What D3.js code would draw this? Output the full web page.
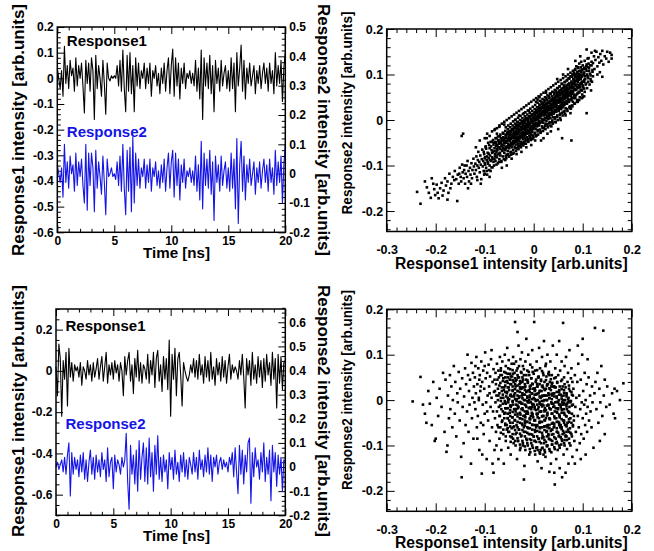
<!DOCTYPE html>
<html><head><meta charset="utf-8">
<script src="https://cdn.jsdelivr.net/npm/d3@7"></script>
<style>
body{margin:0;background:#fff}
text{font-family:"Liberation Sans",Arial,Helvetica,sans-serif;font-weight:bold}
</style>
</head><body>
<svg id="c" width="654" height="551"></svg>
<script>
// ---------- DATA ----------
const timeStep = 0.125; // ns between samples, t = 0 .. 20 ns
const topResponse1 = [
0.04,0.0,-0.04,0.03,-0.07,0.125,-0.02,0.05,
-0.04,0.07,0.01,0.04,-0.05,0.08,-0.03,0.05,
0.0,0.06,-0.03,-0.135,0.07,-0.02,0.06,-0.05,
0.08,0.03,-0.16,0.09,-0.04,0.05,0.0,-0.07,
0.07,-0.02,-0.14,0.06,0.0,-0.01,0.01,0.0,
0.01,0.0,0.05,-0.03,0.07,-0.05,0.11,-0.04,
-0.13,0.09,-0.05,0.1,-0.06,0.05,-0.13,0.08,
-0.03,0.06,-0.04,0.03,0.0,0.06,-0.04,0.04,
-0.02,0.06,-0.07,0.03,0.0,0.05,-0.03,0.02,
-0.06,0.04,-0.02,0.06,-0.05,0.03,0.08,-0.06,
0.05,0.114,-0.07,0.08,-0.03,0.06,-0.08,0.04,
-0.02,0.06,-0.04,0.02,0.0,0.03,-0.02,0.02,
-0.03,0.07,-0.05,0.04,-0.08,0.11,-0.16,0.08,
-0.03,0.06,-0.04,0.09,-0.06,0.05,-0.13,0.07,
-0.02,0.04,-0.05,0.07,-0.03,0.02,0.05,-0.04,
0.03,-0.05,0.08,-0.04,0.06,-0.13,0.1,-0.03,
0.04,0.13,-0.05,0.07,-0.08,0.04,-0.02,0.06,
-0.03,0.01,0.05,-0.06,0.03,-0.02,0.05,-0.04,
0.02,0.06,-0.02,0.04,-0.05,0.06,-0.02,0.03,
-0.06,0.1,-0.03,0.05,-0.02,0.07,-0.09,0.04,
0.1];
const topResponse2 = [
0.03,0.0,-0.03,0.02,-0.08,0.1,-0.03,0.04,
-0.05,0.06,0.0,0.03,-0.06,0.07,-0.04,0.04,
-0.01,0.05,-0.04,-0.1,0.1,-0.125,0.07,-0.04,
0.07,0.02,-0.13,0.08,-0.05,0.04,-0.01,-0.07,
0.06,-0.03,-0.14,0.05,-0.01,0.0,0.02,-0.01,
0.0,-0.02,0.04,-0.04,0.06,-0.06,0.1,-0.05,
-0.14,0.08,-0.06,0.09,-0.13,0.125,-0.1,0.07,
-0.04,0.05,-0.05,0.02,-0.01,0.05,-0.05,0.03,
-0.03,0.05,-0.06,0.02,-0.01,0.04,-0.04,0.01,
-0.05,0.03,-0.03,0.05,-0.06,0.02,0.07,-0.05,
0.04,0.08,-0.08,0.07,-0.04,0.05,-0.09,0.03,
-0.03,0.05,-0.05,0.01,-0.01,0.02,-0.03,0.01,
-0.04,0.06,-0.06,0.03,-0.09,0.11,-0.12,0.07,
-0.04,0.05,-0.05,0.08,-0.07,0.04,-0.16,0.06,
-0.03,0.03,-0.06,0.06,-0.04,0.01,0.04,-0.05,
0.02,-0.06,0.07,-0.05,0.05,-0.12,0.12,-0.17,
0.03,0.11,-0.06,0.06,-0.09,0.03,-0.03,0.05,
-0.04,0.0,0.04,-0.07,0.02,-0.03,0.04,-0.05,
0.01,0.05,-0.03,0.03,-0.06,0.05,-0.03,0.02,
-0.07,0.08,-0.04,0.04,-0.03,0.06,-0.1,0.03,
0.1];
const bottomResponse1 = [
0.02,-0.12,0.13,0.06,-0.22,0.05,-0.04,0.09,
-0.17,0.11,-0.03,0.04,-0.05,0.03,0.0,0.02,
-0.03,0.04,-0.07,0.02,0.0,-0.04,0.05,-0.02,
0.03,-0.05,0.04,-0.03,0.01,0.06,-0.04,0.02,
0.07,-0.05,0.02,0.09,-0.06,0.03,-0.02,0.04,
-0.04,0.05,-0.01,0.03,-0.05,0.04,0.0,-0.12,
0.07,-0.02,0.05,0.09,-0.05,0.03,-0.11,0.06,
-0.03,0.1,-0.05,0.04,-0.06,0.03,0.01,-0.04,
0.08,-0.06,0.05,-0.02,0.09,-0.08,0.06,0.1,
-0.05,0.03,-0.1,0.07,-0.04,0.06,-0.09,0.15,
-0.22,0.08,-0.04,0.11,-0.12,0.06,0.09,-0.02,
-0.17,0.04,0.0,-0.03,-0.05,-0.02,0.03,-0.01,
0.06,-0.03,0.05,-0.04,0.08,-0.02,0.03,-0.06,
0.07,-0.03,0.05,-0.05,0.09,-0.04,0.02,-0.07,
0.06,-0.02,0.04,-0.05,0.07,-0.03,0.05,-0.06,
0.02,0.08,-0.04,0.03,-0.01,0.02,0.0,-0.04,
0.05,-0.02,0.08,-0.03,-0.18,0.06,-0.02,0.05,
-0.07,0.09,-0.04,0.03,-0.06,0.07,-0.03,0.05,
-0.08,0.06,-0.05,0.08,-0.02,0.04,-0.07,0.09,
-0.04,0.06,-0.18,0.08,-0.06,0.07,-0.09,0.04,
0.05];
const bottomResponse2 = [
0.0,0.02,-0.01,0.01,0.03,-0.02,0.04,-0.03,
0.05,0.1,-0.12,0.06,-0.03,0.04,-0.01,0.03,
-0.04,0.05,-0.02,0.06,-0.05,0.03,-0.06,0.02,
0.07,-0.03,0.04,-0.05,0.05,-0.02,0.03,-0.04,
0.06,-0.01,0.03,-0.06,0.08,-0.04,0.02,0.04,
-0.09,0.05,-0.02,0.03,0.01,-0.03,0.04,0.0,
0.03,0.14,-0.06,-0.175,0.09,-0.03,0.05,-0.07,
0.07,-0.1,0.11,-0.05,0.04,0.1,-0.06,0.08,
-0.07,0.12,-0.04,0.06,-0.1,0.09,-0.03,0.13,
-0.05,0.04,-0.06,0.05,-0.02,0.03,-0.09,0.06,
-0.01,0.04,-0.05,0.07,-0.03,0.02,-0.06,0.05,
-0.02,0.06,-0.04,0.03,-0.05,0.04,0.01,-0.03,
0.06,-0.02,0.04,-0.05,0.07,-0.01,0.03,-0.04,
0.05,-0.02,0.08,-0.03,0.05,-0.06,0.04,0.0,
0.05,-0.03,0.02,0.04,-0.01,0.03,0.0,0.02,
-0.02,0.04,0.01,0.06,-0.04,0.08,-0.02,-0.11,
0.09,-0.03,0.07,-0.07,0.05,-0.02,0.1,0.12,
-0.15,0.06,-0.04,0.08,0.0,0.03,-0.05,0.06,
-0.02,0.1,-0.06,0.04,-0.03,0.07,-0.14,0.09,
-0.02,0.06,-0.08,0.05,-0.03,0.04,-0.1,0.03,
0.02];
// scatter points, [Response1, Response2] in units of 0.001 arb.units
const scatterTopSparse = [
[-238,-158],[-231,-184],[-222,-135],[-218,-148],[-214,-160],[-210,-171],[-205,-140],[-201,-165],[-203,-152],[-208,-128],
[-198,-142],[-196,-160],[-194,-172],[-191,-150],[-188,-138],[-186,-166],[-184,-155],[-181,-128],[-179,-144],[-176,-135],[-174,-160],[-172,-118],[-170,-150],[-168,-140],[-165,-125],[-162,-132],[-161,-112],[-176,-175],
[-158,-130],[-156,-178],[-155,-120],[-153,-140],[-151,-105],[-149,-125],[-148,-135],[-146,-98],[-145,-115],[-143,-128],[-142,-110],[-140,-140],[-139,-118],[-137,-100],[-136,-125],[-135,-90],[-133,-112],[-132,-135],[-130,-105],[-129,-120],[-127,-95],[-126,-128],[-125,-110],[-123,-85],[-122,-102],[-121,-118],[-147,-35],[-144,-30],[-128,-140],[-134,-150],[-152,-118],[-141,-100],
[-119,-96],[-118,-110],[-117,-80],[-116,-125],[-115,-100],[-114,-88],[-113,-70],[-112,-105],[-111,-92],[-110,-115],[-109,-78],[-108,-98],[-107,-130],[-106,-86],[-105,-65],[-104,-102],[-103,-90],[-102,-112],[-101,-75],[-100,-95],[-99,-82],[-98,-60],[-97,-105],[-96,-88],[-95,-120],[-94,-72],[-93,-96],[-92,-84],[-91,-55],[-90,-100],[-89,-78],[-88,-112],[-87,-90],[-86,-66],[-85,-82],[-84,-104],[-83,-70],[-82,-92],[-81,-50],[-80,-85],[-118,-60],[-110,-45],[-96,-40],[-108,-140],[-90,-125],[-85,-48],[-100,-118],[-115,-132],
[-80,-62],[-79,-75],[-78,-48],[-78,-90],[-77,-58],[-76,-70],[-76,-40],[-75,-82],[-74,-55],[-74,-66],[-73,-95],[-72,-44],[-72,-60],[-71,-74],[-70,-52],[-70,-86],[-69,-36],[-68,-64],[-68,-78],[-67,-50],[-66,-58],[-66,-92],[-65,-42],[-64,-68],[-64,-54],[-63,-80],[-62,-30],[-62,-62],[-61,-48],[-60,-72],[-60,-56],[-59,-40],[-58,-66],[-58,-88],[-57,-50],[-56,-60],[-56,-34],[-55,-76],[-54,-46],[-54,-58],[-53,-68],[-52,-26],[-52,-52],[-51,-40],[-50,-62],[-50,-80],[-49,-46],[-48,-56],[-48,-32],[-47,-70],[-46,-42],[-46,-50],[-45,-60],[-44,-22],[-44,-38],[-43,-54],[-42,-46],[-42,-74],[-41,-30],[-40,-50],[-40,-40],[-79,-20],[-70,-15],[-65,-105],[-55,-100],[-45,-85],[-60,-10],[-75,-30],
[-40,-26],[-39,-60],[-39,-38],[-38,-46],[-38,-18],[-37,-32],[-37,-54],[-36,-40],[-36,-10],[-35,-28],[-35,-48],[-34,-36],[-34,-62],[-33,-20],[-33,-42],[-32,-30],[-32,-52],[-31,-14],[-31,-38],[-30,-24],[-30,-46],[-29,-32],[-29,-58],[-28,-8],[-28,-40],[-27,-22],[-27,-34],[-26,-48],[-26,-16],[-25,-28],[-25,-38],[-24,-2],[-24,-54],[-23,-20],[-23,-30],[-22,-42],[-22,-12],[-21,-26],[-21,-36],[-20,-18],[-20,-48],[-19,-6],[-19,-30],[-18,-22],[-18,-40],[-17,-14],[-17,-34],[-16,-26],[-16,4],[-15,-44],[-15,-18],[-14,-30],[-14,-10],[-13,-22],[-13,-38],[-12,-2],[-12,-16],[-11,-28],[-11,-46],[-10,-12],[-10,-24],[-9,6],[-9,-34],[-8,-18],[-8,-8],[-7,-28],[-7,-40],[-6,-14],[-6,2],[-5,-22],[-5,-32],[-4,-6],[-4,-18],[-3,10],[-3,-26],[-2,-12],[-2,-2],[-1,-36],[-1,-20],[0,-8],[0,4],[-38,0],[-30,10],[-20,15],[-10,20],[-35,-75],[-25,-70],[-15,-60],[-5,-55],[-33,-5],[-27,-50],[-19,-52],[-11,-6],[-3,-42],
[1,-16],[1,-2],[2,8],[2,-28],[3,-10],[3,14],[4,0],[4,-20],[5,22],[5,-6],[6,6],[6,-34],[7,-14],[7,16],[8,2],[8,-8],[9,28],[9,-22],[10,10],[10,-2],[11,-12],[11,20],[12,4],[12,34],[13,-6],[13,14],[14,-26],[14,24],[15,8],[15,-4],[16,18],[16,40],[17,-14],[17,2],[18,28],[18,12],[19,-6],[19,36],[20,20],[20,0],[21,10],[21,-18],[22,44],[22,26],[23,4],[23,16],[24,-8],[24,32],[25,22],[25,12],[26,-2],[26,48],[27,28],[27,8],[28,18],[28,-12],[29,38],[29,24],[30,2],[30,14],[31,30],[31,52],[32,10],[32,-6],[33,22],[33,40],[34,16],[34,4],[35,34],[35,58],[36,24],[36,-14],[37,12],[37,44],[38,28],[38,20],[39,6],[39,36],[40,48],[40,26],[5,40],[12,50],[20,-40],[28,-30],[35,-25],[15,-45],[8,45],[25,60],[38,-5],[3,-45],
[41,30],[41,14],[42,42],[42,60],[43,22],[43,36],[44,6],[44,50],[45,28],[45,64],[46,40],[46,18],[47,56],[47,32],[48,44],[48,10],[49,26],[49,70],[50,38],[50,52],[51,20],[51,62],[52,46],[52,30],[53,74],[53,40],[54,14],[54,56],[55,34],[55,66],[56,48],[56,24],[57,80],[57,58],[58,38],[58,44],[59,70],[59,28],[60,52],[60,62],[61,40],[61,18],[62,76],[62,56],[63,46],[63,34],[64,66],[64,84],[65,50],[65,26],[66,60],[66,72],[67,42],[67,56],[68,88],[68,36],[69,64],[69,50],[70,78],[70,46],[71,58],[71,92],[72,40],[72,68],[73,54],[73,80],[74,62],[74,30],[75,72],[75,96],[76,52],[76,64],[77,84],[77,44],[78,70],[78,58],[79,100],[79,76],[80,62],[80,40],[45,-5],[55,0],[65,10],[75,15],[48,90],[60,100],[70,112],[76,25],[50,-20],[58,-40],[77,-45],
[81,90],[81,72],[82,56],[82,104],[83,80],[83,66],[84,94],[84,110],[85,76],[85,48],[86,100],[86,86],[87,66],[87,118],[88,92],[88,78],[89,58],[89,106],[90,84],[90,96],[91,114],[91,70],[92,88],[92,100],[93,62],[93,124],[94,94],[94,80],[95,108],[95,72],[96,116],[96,90],[97,100],[97,128],[98,84],[98,66],[99,110],[99,96],[100,120],[100,76],[102,104],[103,88],[104,130],[105,96],[106,112],[107,80],[108,122],[109,100],[110,116],[111,92],[112,136],[113,108],[115,120],[116,98],[118,128],[120,110],[85,130],[95,140],[90,40],[100,50],[110,135],[117,65],[108,15],[117,86],
[121,125],[123,140],[124,112],[126,132],[128,150],[130,118],[132,138],[134,126],[136,145],[138,130],[140,152],[142,122],[145,140],[148,135],[150,150],[153,128],[156,148],[159,143],[159,135],[108,155],[125,152],[118,148],[135,105],[140,95],[130,100]
];
const scatterTopDense = [
[-101,-120],[-99,-98],[-100,-84],[-102,-70],[-98,-58],[-100,-40],
[-96,-112],[-94,-92],[-95,-80],[-97,-63],[-93,-50],[-95,-30],
[-91,-110],[-89,-88],[-92,-74],[-90,-62],[-88,-48],[-90,-35],
[-86,-104],[-84,-86],[-85,-72],[-87,-58],[-83,-44],[-85,-25],
[-81,-100],[-79,-80],[-80,-68],[-82,-54],[-78,-40],[-80,-22],
[-76,-98],[-74,-76],[-75,-64],[-77,-50],[-73,-36],[-75,-18],[-76,-55],
[-71,-92],[-69,-72],[-70,-60],[-72,-46],[-68,-32],[-70,-12],[-71,-50],
[-66,-90],[-64,-66],[-65,-56],[-67,-40],[-63,-28],[-65,-8],[-66,-46],
[-61,-86],[-59,-64],[-60,-50],[-62,-38],[-58,-24],[-60,-4],[-61,-44],
[-56,-84],[-54,-60],[-55,-46],[-57,-34],[-53,-20],[-55,0],[-56,-40],[-54,-28],
[-51,-80],[-49,-56],[-50,-42],[-52,-30],[-48,-16],[-50,4],[-51,-36],[-49,-24],
[-46,-76],[-44,-52],[-45,-38],[-47,-26],[-43,-12],[-45,8],[-46,-32],[-44,-20],
[-41,-72],[-39,-48],[-40,-34],[-42,-22],[-38,-8],[-40,12],[-41,-28],[-39,-16],
[-36,-68],[-34,-44],[-35,-30],[-37,-18],[-33,-4],[-35,16],[-36,-24],[-34,-12],
[-31,-64],[-29,-40],[-30,-26],[-32,-14],[-28,0],[-30,20],[-31,-20],[-29,-8],
[-26,-60],[-24,-36],[-25,-22],[-27,-10],[-23,4],[-25,24],[-26,-16],[-24,-4],
[-21,-56],[-19,-32],[-20,-18],[-22,-6],[-18,8],[-20,28],[-21,-12],[-19,0],
[-16,-52],[-14,-28],[-15,-14],[-17,-2],[-13,12],[-15,32],[-16,-8],[-14,4],
[-11,-48],[-9,-24],[-10,-10],[-12,2],[-8,16],[-10,36],[-11,-4],[-9,8],
[-6,-44],[-4,-20],[-5,-6],[-7,6],[-3,20],[-5,40],[-6,0],[-4,12],
[-1,-40],[1,-16],[0,-2],[-2,10],[2,24],[0,44],[-1,4],[1,16],
[4,-36],[6,-12],[5,2],[3,14],[7,28],[5,48],[4,8],[6,20],
[9,-32],[11,-8],[10,6],[8,18],[12,32],[10,52],[9,12],[11,24],
[14,-28],[16,-4],[15,10],[13,22],[17,36],[15,56],[14,16],[16,28],
[19,-24],[21,0],[20,14],[18,26],[22,40],[20,60],[19,20],[21,32],
[24,-20],[26,4],[25,18],[23,30],[27,44],[25,64],[24,24],[26,36],
[29,-16],[31,8],[30,22],[28,34],[32,48],[30,68],[29,28],[31,40],
[34,-12],[36,12],[35,26],[33,38],[37,52],[35,72],[34,32],[36,44],
[39,-8],[41,16],[40,30],[38,42],[42,56],[40,76],[39,36],[41,48],
[44,-4],[46,20],[45,34],[43,46],[47,60],[45,80],[44,40],[46,52],
[49,0],[51,24],[50,38],[48,50],[52,64],[50,84],[49,44],[51,56],
[54,4],[56,28],[55,42],[53,54],[57,68],[55,88],[54,48],[56,60],
[59,10],[61,32],[60,46],[58,58],[62,72],[60,92],[59,52],
[64,14],[66,36],[65,50],[63,62],[67,76],[65,96],[64,56],
[69,20],[71,40],[70,54],[68,66],[72,80],[70,100],[69,60],
[74,26],[76,44],[75,58],[73,70],[77,84],[75,104],
[79,30],[81,48],[80,62],[78,74],[82,88],[80,108],
[84,36],[86,54],[85,68],[83,80],[87,94],[85,112],
[89,44],[91,60],[90,72],[88,86],[92,100],[90,116],
[94,50],[96,66],[95,78],[93,92],[97,106],
[99,56],[101,72],[100,84],[98,98],[102,112],
[104,62],[106,78],[105,90],[103,104],[107,118],
[109,70],[111,84],[110,96],[108,108],[112,124],
[114,78],[116,90],[115,102],[113,114],
[119,84],[121,96],[120,106],[118,120],
[-57,-79],[-57,-62],[-57,-47],[-57,-32],[-57,-16],
[-52,-75],[-52,-58],[-52,-43],[-52,-28],[-52,-12],
[-47,-71],[-47,-54],[-47,-39],[-47,-24],[-47,-8],
[-42,-66],[-42,-49],[-42,-34],[-42,-19],[-42,-3],
[-37,-62],[-37,-45],[-37,-30],[-37,-15],[-37,1],
[-32,-58],[-32,-41],[-32,-26],[-32,-11],[-32,5],
[-27,-54],[-27,-37],[-27,-22],[-27,-7],[-27,9],
[-22,-50],[-22,-33],[-22,-18],[-22,-3],[-22,13],
[-17,-46],[-17,-29],[-17,-14],[-17,1],[-17,17],
[-12,-42],[-12,-25],[-12,-10],[-12,5],[-12,21],
[-7,-38],[-7,-21],[-7,-6],[-7,9],[-7,25],
[-2,-34],[-2,-17],[-2,-2],[-2,13],[-2,29],
[3,-30],[3,-13],[3,2],[3,17],[3,33],
[8,-25],[8,-8],[8,7],[8,22],[8,38],
[13,-21],[13,-4],[13,11],[13,26],[13,42],
[18,-17],[18,0],[18,15],[18,30],[18,46],
[23,-13],[23,4],[23,19],[23,34],[23,50],
[28,-9],[28,8],[28,23],[28,38],[28,54],
[33,-5],[33,12],[33,27],[33,42],[33,58],
[38,-1],[38,16],[38,31],[38,46],[38,62],
[43,3],[43,20],[43,35],[43,50],[43,66],
[48,7],[48,24],[48,39],[48,54],[48,70],
[53,11],[53,28],[53,43],[53,58],[53,74],
[58,16],[58,33],[58,48],[58,63],[58,79],
[63,20],[63,37],[63,52],[63,67],[63,83],
[68,24],[68,41],[68,56],[68,71],[68,87],
[73,28],[73,45],[73,60],[73,75],[73,91],
[78,32],[78,49],[78,64],[78,79],[78,95],
[83,36],[83,53],[83,68],[83,83],[83,99],
[88,40],[88,57],[88,72],[88,87],[88,103],
[93,44],[93,61],[93,76],[93,91],[93,107],
[98,48],[98,65],[98,80],[98,95],[98,111],
[103,52],[103,69],[103,84],[103,99],[103,115]
];
const scatterBottomSparse = [
[-247,-3],[-231,51],[-226,-10],[-222,-30],[-219,-50],[-215,20],[-212,-8],[-208,-55],[-205,40],[-202,-90],[-200,-85],[-198,5],[-195,-35],[-192,25],[-188,-15],[-185,60],[-182,-70],[-180,45],
[-178,-114],[-176,-100],[-175,10],[-173,-40],[-171,55],[-170,-20],[-168,30],[-166,-60],[-165,0],[-163,75],[-161,-30],[-160,40],[-158,-80],[-156,15],[-155,-5],[-153,62],[-151,-45],[-150,25],[-148,-125],[-147,-170],[-146,48],[-145,-15],[-143,-95],[-142,8],[-140,70],[-139,-55],[-138,35],[-136,-25],[-135,100],[-134,55],[-133,-70],[-132,20],[-131,-10],[-130,45],[-128,-140],[-127,82],[-126,-40],[-125,5],[-124,60],[-123,-85],[-122,30],[-121,-5],
[-120,50],[-119,-20],[-118,15],[-117,95],[-116,-60],[-115,35],[-114,-35],[-113,70],[-112,0],[-111,-110],[-110,55],[-109,20],[-108,-50],[-107,85],[-106,-162],[-105,40],[-104,-10],[-103,65],[-102,-75],[-101,25],[-100,-30],[-99,105],[-98,48],[-97,-5],[-96,-130],[-95,60],[-94,10],[-93,-45],[-92,78],[-91,30],[-90,-90],[-89,52],[-88,-15],[-87,90],[-86,5],[-85,-60],[-84,40],[-83,-25],[-82,-160],[-82,68],[-81,18],[-80,-110],[-80,45],[-119,75],[-115,-85],[-111,45],[-105,-120],[-100,75],[-95,-25],[-90,15],[-86,110],[-84,-140],[-112,5],[-108,30],[-103,-55],
[-79,20],[-79,-40],[-78,60],[-78,-5],[-77,-70],[-77,35],[-76,10],[-76,-100],[-75,80],[-75,-25],[-74,45],[-74,-55],[-73,0],[-73,25],[-72,-130],[-72,65],[-71,-15],[-71,50],[-70,-85],[-70,15],[-69,95],[-69,-35],[-68,38],[-68,-60],[-67,5],[-67,70],[-66,-20],[-66,-110],[-65,55],[-65,28],[-64,-45],[-64,85],[-63,-8],[-63,12],[-62,-75],[-62,48],[-61,22],[-61,-140],[-60,62],[-60,-30],[-59,-2],[-59,100],[-58,-55],[-58,32],[-57,75],[-57,-90],[-56,8],[-56,-18],[-55,42],[-55,-65],[-54,115],[-54,18],[-53,-40],[-53,58],[-52,-5],[-52,-105],[-51,28],[-51,88],[-50,-70],[-50,2],[-49,45],[-49,-28],[-48,68],[-48,-50],[-47,12],[-47,-120],[-46,35],[-46,-12],[-45,80],[-45,-82],[-44,52],[-44,-38],[-43,-2],[-43,22],[-42,-60],[-42,95],[-41,40],[-41,-95],[-40,-20],[-40,8],
[-39,-45],[-39,60],[-38,172],[-38,15],[-37,-75],[-37,30],[-36,-10],[-36,85],[-35,-55],[-35,45],[-34,-130],[-34,2],[-33,70],[-33,-30],[-32,20],[-32,-90],[-31,120],[-31,-15],[-30,50],[-30,-65],[-29,8],[-29,35],[-28,-40],[-28,-110],[-27,90],[-27,-5],[-26,62],[-26,-80],[-25,25],[-25,-20],[-24,105],[-24,-52],[-23,40],[-23,-8],[-22,-100],[-22,75],[-21,12],[-21,-35],[-20,55],[-20,-60],[-19,-145],[-19,28],[-18,0],[-18,-25],[-17,85],[-17,-70],[-16,45],[-16,-12],[-15,135],[-15,18],[-14,-48],[-14,-88],[-13,65],[-13,5],[-12,-30],[-12,38],[-11,-62],[-11,100],[-10,-18],[-10,22],[-9,-120],[-9,55],[-8,-42],[-8,10],[-7,78],[-7,-75],[-6,-5],[-6,32],[-5,-95],[-5,48],[-4,-28],[-4,15],[-3,110],[-3,-55],[-2,-10],[-2,62],[-1,-38],[-1,25],[0,-80],[0,5],[-36,-20],[-30,-5],[-24,10],[-18,-50],[-12,-5],[-6,-35],[-27,25],[-15,-30],[-9,0],[-3,-15],[-33,150],[-20,-175],
[1,172],[1,-45],[2,20],[2,-15],[3,65],[3,-70],[4,-2],[4,40],[5,-105],[5,12],[6,-30],[6,85],[7,-55],[7,30],[8,0],[8,-135],[9,50],[9,-20],[10,-85],[10,15],[11,115],[11,-40],[12,35],[12,-8],[13,-62],[13,70],[14,5],[14,-110],[15,-25],[15,45],[16,-150],[16,20],[17,-48],[17,95],[18,-10],[18,-78],[19,60],[19,28],[20,-35],[20,-2],[21,130],[21,-95],[22,40],[22,-58],[23,10],[23,-18],[24,75],[24,-125],[25,-40],[25,25],[26,-70],[26,52],[27,0],[27,-100],[28,100],[28,-28],[29,35],[29,-55],[30,-12],[30,15],[31,-85],[31,62],[32,-158],[32,5],[33,40],[33,-42],[34,-20],[34,85],[35,-68],[35,22],[36,-5],[36,-115],[37,55],[37,-30],[38,-90],[38,10],[39,120],[39,-50],[40,30],[40,-15],[5,-60],[10,50],[15,-10],[20,-120],[25,80],[30,-75],[35,-140],[2,-90],[12,-50],[22,-25],[32,55],[38,-65],[8,-30],[18,10],[28,-60],[36,30],
[41,-60],[41,15],[42,-160],[42,48],[43,-186],[43,-25],[44,-5],[44,70],[45,-95],[45,28],[46,-40],[46,-130],[47,8],[47,100],[48,-70],[48,38],[49,-18],[49,-110],[50,55],[50,-48],[51,0],[51,-80],[52,22],[52,130],[53,-35],[53,-150],[54,65],[54,-60],[55,12],[55,-10],[56,-98],[56,42],[57,-28],[57,85],[58,-170],[58,-5],[59,30],[59,-75],[60,170],[60,-45],[61,10],[61,-120],[62,50],[62,-20],[63,-88],[63,75],[64,0],[64,-55],[65,-160],[65,28],[66,-35],[66,95],[67,-70],[67,15],[68,-8],[68,-108],[69,40],[69,-50],[70,-25],[70,60],[71,-140],[71,5],[72,-85],[72,32],[73,-15],[73,110],[74,-62],[74,20],[75,-40],[75,-100],[76,48],[76,-2],[77,-75],[77,70],[78,-30],[78,12],[79,-125],[79,40],[80,-55],[80,-10],[50,-20],[60,-10],[70,-5],[55,-55],[65,-80],
[81,25],[82,-45],[83,-90],[84,55],[85,-15],[86,-70],[87,5],[88,-110],[89,40],[90,-35],[91,80],[92,-60],[93,10],[94,-95],[95,-20],[96,45],[97,-75],[98,-5],[99,100],[100,-40],[101,20],[102,-85],[103,-10],[104,60],[105,-55],[106,0],[107,-30],[108,35],[109,-70],[110,-15],[112,50],[113,-45],[115,10],[116,-25],[118,-60],[119,30],[120,-5],[122,-105],[124,15],[90,120],[100,135],[110,90],[84,-140],[96,-130],[106,-120],
[125,159],[142,153],[126,40],[128,-20],[130,60],[132,-50],[134,25],[136,-5],[138,75],[140,-35],[143,10],[145,45],[148,-15],[150,30],[155,-10],[160,15],[163,-30],[166,-40],[170,20],[176,0],[183,37],[165,25],[145,-75],[135,-90]
];
const scatterBottomDense = [
[-72,-60],[-70,-35],[-68,-12],[-72,10],[-70,32],[-68,55],
[-67,-72],[-65,-48],[-63,-25],[-67,-2],[-65,20],[-63,42],[-67,65],
[-62,-65],[-60,-40],[-58,-18],[-62,5],[-60,28],[-58,50],
[-57,-80],[-55,-55],[-53,-30],[-57,-8],[-55,15],[-53,38],[-57,60],
[-52,-70],[-50,-45],[-48,-22],[-52,0],[-50,22],[-48,45],[-52,70],
[-47,-92],[-45,-62],[-43,-38],[-47,-15],[-45,8],[-43,30],[-47,52],
[-42,-85],[-40,-58],[-38,-32],[-42,-10],[-40,12],[-38,35],[-42,58],[-40,80],
[-37,-100],[-35,-72],[-33,-48],[-37,-25],[-35,-2],[-33,20],[-37,42],[-35,65],
[-32,-90],[-30,-65],[-28,-40],[-32,-18],[-30,5],[-28,28],[-32,50],[-30,75],
[-27,-105],[-25,-78],[-23,-55],[-27,-32],[-25,-8],[-23,15],[-27,38],[-25,60],
[-22,-95],[-20,-70],[-18,-45],[-22,-22],[-20,0],[-18,22],[-22,45],[-20,68],
[-17,-110],[-15,-85],[-13,-60],[-17,-38],[-15,-15],[-13,8],[-17,30],[-15,55],
[-12,-100],[-10,-75],[-8,-50],[-12,-28],[-10,-5],[-8,18],[-12,40],[-10,62],
[-7,-115],[-5,-88],[-3,-65],[-7,-42],[-5,-20],[-3,2],[-7,25],[-5,48],[-3,72],
[-2,-105],[0,-80],[2,-55],[-2,-32],[0,-10],[2,12],[-2,35],[0,58],
[3,-120],[5,-92],[7,-68],[3,-45],[5,-22],[7,0],[3,22],[5,45],[7,66],
[8,-110],[10,-85],[12,-60],[8,-38],[10,-15],[12,8],[8,30],[10,52],
[13,-118],[15,-95],[17,-72],[13,-48],[15,-25],[17,-2],[13,20],[15,42],[17,64],
[18,-105],[20,-82],[22,-58],[18,-35],[20,-12],[22,10],[18,32],[20,55],
[23,-115],[25,-92],[27,-68],[23,-45],[25,-22],[27,0],[23,22],[25,44],
[28,-100],[30,-78],[32,-55],[28,-32],[30,-10],[32,12],[28,35],[30,58],
[33,-112],[35,-88],[37,-65],[33,-42],[35,-20],[37,2],[33,25],[35,46],
[38,-98],[40,-75],[42,-52],[38,-30],[40,-8],[42,15],[38,38],
[43,-108],[45,-85],[47,-62],[43,-40],[45,-18],[47,5],[43,28],[45,50],
[48,-95],[50,-72],[52,-50],[48,-28],[50,-5],[52,18],[48,40],
[53,-105],[55,-82],[57,-60],[53,-38],[55,-15],[57,8],[53,30],
[58,-90],[60,-68],[62,-45],[58,-22],[60,0],[62,22],[58,45],
[63,-100],[65,-78],[67,-55],[63,-32],[65,-10],[67,12],[63,35],
[68,-88],[70,-65],[72,-42],[68,-20],[70,2],[72,25],
[73,-95],[75,-72],[77,-50],[73,-28],[75,-5],[77,18],
[78,-80],[80,-58],[82,-35],[78,-12],[80,10],
[-58,-52],[-58,-28],[-58,-5],[-58,18],[-58,40],
[-53,-62],[-53,-40],[-53,-18],[-53,5],[-53,28],[-53,50],
[-48,-80],[-48,-58],[-48,-35],[-48,-12],[-48,10],[-48,35],[-48,58],
[-43,-75],[-43,-50],[-43,-26],[-43,-4],[-43,20],[-43,44],[-43,66],
[-38,-90],[-38,-66],[-38,-44],[-38,-20],[-38,2],[-38,24],[-38,48],
[-33,-84],[-33,-60],[-33,-36],[-33,-12],[-33,10],[-33,32],[-33,55],
[-28,-98],[-28,-74],[-28,-50],[-28,-28],[-28,-4],[-28,18],[-28,42],
[-23,-90],[-23,-66],[-23,-42],[-23,-18],[-23,4],[-23,28],[-23,50],
[-18,-102],[-18,-80],[-18,-56],[-18,-34],[-18,-10],[-18,12],[-18,35],
[-13,-95],[-13,-72],[-13,-48],[-13,-25],[-13,-2],[-13,20],[-13,44],
[-8,-108],[-8,-86],[-8,-62],[-8,-40],[-8,-16],[-8,6],[-8,30],
[-3,-100],[-3,-76],[-3,-54],[-3,-30],[-3,-8],[-3,14],[-3,36],
[2,-112],[2,-90],[2,-66],[2,-44],[2,-20],[2,2],[2,26],
[7,-104],[7,-80],[7,-56],[7,-32],[7,-10],[7,14],[7,36],
[12,-115],[12,-92],[12,-70],[12,-48],[12,-26],[12,-4],[12,20],
[17,-106],[17,-84],[17,-60],[17,-36],[17,-14],[17,8],[17,30],
[22,-110],[22,-88],[22,-66],[22,-44],[22,-22],[22,0],[22,24],
[27,-102],[27,-80],[27,-56],[27,-34],[27,-12],[27,10],[27,32],
[32,-108],[32,-86],[32,-62],[32,-40],[32,-18],[32,4],[32,26],
[37,-98],[37,-76],[37,-52],[37,-30],[37,-8],[37,14],[37,36],
[42,-104],[42,-82],[42,-58],[42,-36],[42,-14],[42,8],[42,30],
[47,-92],[47,-70],[47,-48],[47,-26],[47,-4],[47,18],
[52,-100],[52,-78],[52,-55],[52,-32],[52,-10],[52,12],
[57,-86],[57,-64],[57,-42],[57,-20],[57,2],[57,24],
[62,-95],[62,-72],[62,-50],[62,-28],[62,-6],[62,16],
[67,-80],[67,-58],[67,-36],[67,-14],[67,8],
[72,-70],[72,-48],[72,-26],[72,-2]
];
// tick labels
const timeTicks = [0,5,10,15,20];
const topLeftTicks = [0.2,0.1,0,-0.1,-0.2,-0.3,-0.4,-0.5,-0.6];
const topRightTicks = [0.5,0.4,0.3,0.2,0.1,0,-0.1,-0.2];
const botLeftTicks = [0.2,0,-0.2,-0.4,-0.6];
const botRightTicks = [0.6,0.5,0.4,0.3,0.2,0.1,0,-0.1,-0.2];
const scatXTicks = [-0.3,-0.2,-0.1,0,0.1,0.2];
const scatYTicks = [0.2,0.1,0,-0.1,-0.2];
const legendNames = ["Response1","Response2"];
const titles = {time:"Time [ns]", r1:"Response1 intensity [arb.units]", r2:"Response2 intensity [arb.units]"};

// ---------- DRAW ----------
const svg = d3.select("#c");
const BLUE = "#1414e6";
const fmt = d => { const v = +d.toFixed(3); return v === 0 ? "0" : String(v); };
const minorRange = (a,b,s,majors) => d3.range(Math.round(a/s), Math.round(b/s)+1).map(i => +(i*s).toFixed(4))
  .filter(v => !majors.some(m => Math.abs(m-v) < 1e-9));

function ax(g, gen, scale, major, minor, majLen, minLen, labels, pad, fs) {
  const a1 = gen(scale).tickValues(major).tickSize(-majLen).tickPadding(pad)
    .tickFormat(labels ? fmt : () => "");
  const ga = g.append("g").call(a1);
  ga.select(".domain").remove();
  ga.selectAll("line").attr("stroke","#000").attr("stroke-width",1);
  ga.selectAll("text").attr("font-size",fs).attr("fill","#000")
    .attr("font-family",'"Liberation Sans",Arial,sans-serif').attr("font-weight","bold");
  if (minor && minor.length) {
    const gm = g.append("g").call(gen(scale).tickValues(minor).tickSize(-minLen).tickFormat(() => ""));
    gm.select(".domain").remove();
    gm.selectAll("line").attr("stroke","#000").attr("stroke-width",1);
  }
  return ga;
}

function title(txt, x, y, rot, len, anchor, fs) {
  svg.append("text").attr("transform", `translate(${x},${y}) rotate(${rot})`)
    .attr("text-anchor", anchor).attr("font-size", fs).attr("textLength", len)
    .attr("lengthAdjust","spacingAndGlyphs").attr("fill","#000").text(txt);
}

function timePanel(o) {
  const x = d3.scaleLinear().domain([0,20]).range([o.x0,o.x1]);
  const yl = d3.scaleLinear().domain(o.ld).range([o.y1,o.y0]);
  const yr = d3.scaleLinear().domain(o.rd).range([o.y1,o.y0]);
  const g = svg.append("g");
  const xMinor = minorRange(0,20,1,timeTicks);
  ax(g.append("g").attr("transform",`translate(0,${o.y1})`), d3.axisBottom, x, timeTicks, xMinor, 7, 3.5, true, 4.5, 12);
  ax(g.append("g").attr("transform",`translate(0,${o.y0})`), d3.axisTop, x, timeTicks, xMinor, 7, 3.5, false, 3, 12);
  ax(g.append("g").attr("transform",`translate(${o.x0},0)`), d3.axisLeft, yl, o.lt, minorRange(o.ld[0],o.ld[1],o.lm,o.lt), 7, 3.5, true, 3.5, 12);
  ax(g.append("g").attr("transform",`translate(${o.x1},0)`), d3.axisRight, yr, o.rt, minorRange(o.rd[0],o.rd[1],o.rm,o.rt), 7, 3.5, true, 4, 12);
  const line1 = d3.line().x((d,i) => x(i*timeStep)).y(d => yl(d));
  const line2 = d3.line().x((d,i) => x(i*timeStep)).y(d => yr(d));
  g.append("path").datum(o.s1).attr("d",line1).attr("fill","none").attr("stroke","#000").attr("stroke-width",1.1).attr("stroke-linejoin","round");
  g.append("path").datum(o.s2).attr("d",line2).attr("fill","none").attr("stroke",BLUE).attr("stroke-width",1.1).attr("stroke-linejoin","round");
  g.append("rect").attr("x",o.x0).attr("y",o.y0).attr("width",o.x1-o.x0).attr("height",o.y1-o.y0)
    .attr("fill","none").attr("stroke","#000").attr("stroke-width",1.5);
  g.append("text").attr("x",o.x0+9.5).attr("y",o.l1y).attr("font-size",15).attr("fill","#000").text(legendNames[0]);
  g.append("text").attr("x",o.x0+9.5).attr("y",o.l2y).attr("font-size",15).attr("fill",BLUE).text(legendNames[1]);
  const cy = o.tcy;
  title(titles.r1, 24, cy, -90, 252, "middle", 16);
  title(titles.r2, 318, cy, 90, 252, "middle", 16);
  title(titles.time, 176.5, o.y1+25.5, 0, 67, "middle", 15);
}

function scatterPanel(o) {
  const x = d3.scaleLinear().domain([-0.3,0.2]).range([386.7,631.7]);
  const y = d3.scaleLinear().domain([-0.245,0.2]).range([o.y1,o.y0]);
  const g = svg.append("g");
  const xMinor = minorRange(-0.3,0.2,0.02,scatXTicks);
  const yMinor = minorRange(-0.24,0.2,0.02,scatYTicks);
  ax(g.append("g").attr("transform",`translate(0,${o.y1})`), d3.axisBottom, x, scatXTicks, xMinor, 8, 4, true, 13.5, 12.5);
  ax(g.append("g").attr("transform",`translate(0,${o.y0})`), d3.axisTop, x, scatXTicks, xMinor, 8, 4, false, 3, 12);
  ax(g.append("g").attr("transform",`translate(386.7,0)`), d3.axisLeft, y, scatYTicks, yMinor, 8, 4, true, 3.5, 12.5);
  ax(g.append("g").attr("transform",`translate(631.7,0)`), d3.axisRight, y, scatYTicks, yMinor, 8, 4, false, 3, 12);
  g.append("g").selectAll("rect").data(o.pts).join("rect")
    .attr("x", d => x(d[0]/1000) - 1.3).attr("y", d => y(d[1]/1000) - 1.3)
    .attr("width",2.6).attr("height",2.6).attr("fill","#000");
  g.append("rect").attr("x",386.7).attr("y",o.y0).attr("width",245).attr("height",o.y1-o.y0)
    .attr("fill","none").attr("stroke","#000").attr("stroke-width",1.5);
  title(titles.r2, 352, o.tcy, -90, o.ylen, "middle", 14);
  title(titles.r1, 627.7, o.y1+37, 0, 232.7, "end", 16);
}

timePanel({x0:57.3,x1:285.3,y0:27,y1:232.3,ld:[-0.6,0.2],rd:[-0.2,0.5],lt:topLeftTicks,rt:topRightTicks,lm:0.02,rm:0.02,
  s1:topResponse1,s2:topResponse2,l1y:46,l2y:137,tcy:130});
timePanel({x0:56,x1:285.3,y0:309,y1:515.3,ld:[-0.7,0.3],rd:[-0.2,0.655],lt:botLeftTicks,rt:botRightTicks,lm:0.05,rm:0.02,
  s1:bottomResponse1,s2:bottomResponse2,l1y:331,l2y:429,tcy:411});
scatterPanel({y0:29,y1:231.5,pts:scatterTopSparse.concat(scatterTopDense),tcy:113,ylen:203});
scatterPanel({y0:309.3,y1:511.3,pts:scatterBottomSparse.concat(scatterBottomDense),tcy:390,ylen:200});
</script>
</body></html>
